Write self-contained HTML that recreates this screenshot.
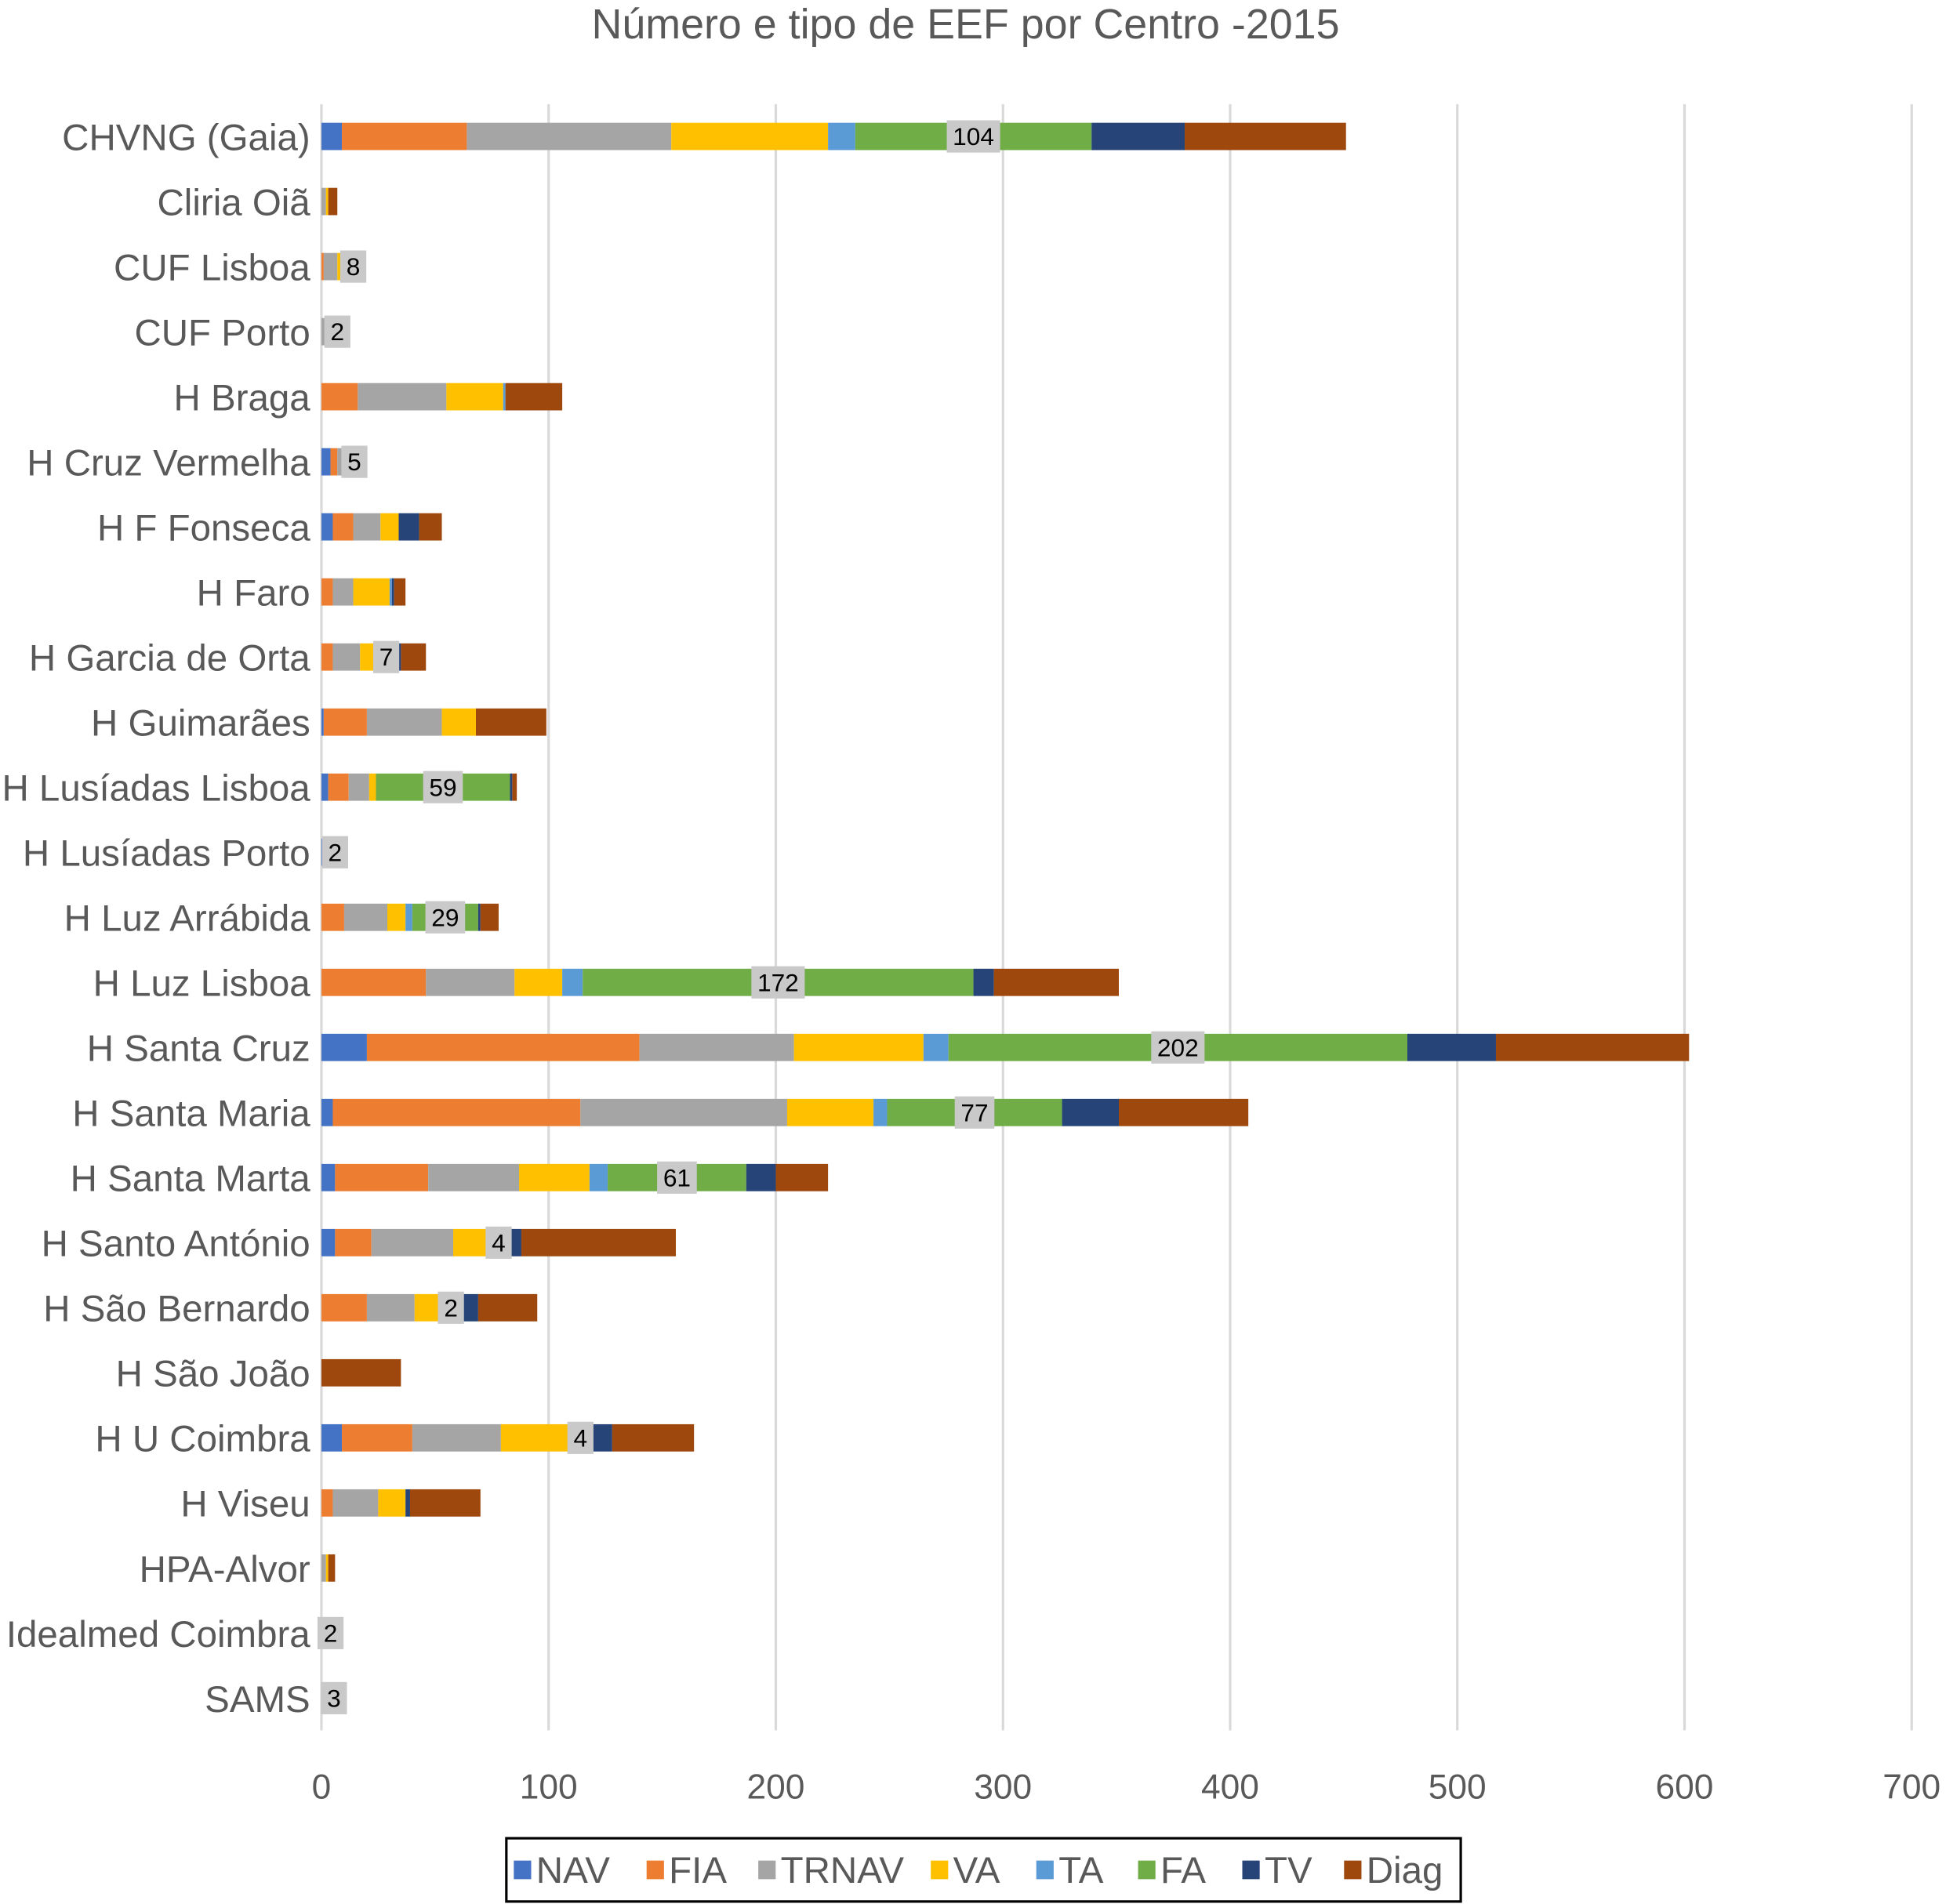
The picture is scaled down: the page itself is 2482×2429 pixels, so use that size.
<!DOCTYPE html>
<html><head><meta charset="utf-8"><style>
html,body{margin:0;padding:0;background:#fff}
svg{display:block}
text{font-family:"Liberation Sans",sans-serif;fill:#595959}
</style></head><body>
<svg id="chart" width="2482" height="2429" viewBox="0 0 1568 1535" preserveAspectRatio="none" xmlns="http://www.w3.org/2000/svg">
<text x="778" y="31" font-size="34" text-anchor="middle">Número e tipo de EEF por Centro -2015</text>
<g id="grid"></g><g id="bars"></g><g id="labels"></g><g id="ticks"></g><g id="cats"></g>
<rect x="408" y="1482" width="769" height="51" fill="#fff" stroke="#000" stroke-width="2"/>
<g id="legend"></g>
</svg>
<script>
const categories=["CHVNG (Gaia)","Cliria Oiã","CUF Lisboa","CUF Porto","H Braga","H Cruz Vermelha","H F Fonseca","H Faro","H Garcia de Orta","H Guimarães","H Lusíadas Lisboa","H Lusíadas Porto","H Luz Arrábida","H Luz Lisboa","H Santa Cruz","H Santa Maria","H Santa Marta","H Santo António","H São Bernardo","H São João","H U Coimbra","H Viseu","HPA-Alvor","Idealmed Coimbra","SAMS"];
const seriesNames=["NAV","FIA","TRNAV","VA","TA","FA","TV","Diag"];
const NAV  =[9,0,0,0,0,4,5,0,0,1,3,1,0,0,20,5,6,6,0,0,9,0,0,0,0];
const FIA  =[55,0,1,0,16,3,9,5,5,19,9,1,10,46,120,109,41,16,20,0,31,5,0,0,1];
const TRNAV=[90,2,6,5,39,2,12,9,12,33,9,3,19,39,68,91,40,36,21,0,39,20,2,3,3];
const VA   =[69,1,3,1,25,3,8,16,6,15,3,0,8,21,57,38,31,15,11,0,31,12,1,0,0];
const TA   =[12,0,0,0,1,0,0,1,2,0,0,0,3,9,11,6,8,3,4,0,2,0,0,0,0];
const FA   =[104,0,8,2,0,5,0,0,7,0,59,2,29,172,202,77,61,4,2,0,4,0,0,2,3];
const TV   =[41,0,0,0,0,0,9,1,3,0,1,0,1,9,39,25,13,8,11,0,12,2,0,0,0];
const Diag =[71,4,0,0,25,3,10,5,11,31,2,0,8,55,85,57,23,68,26,35,36,31,3,0,0];
const xTicks=[0,100,200,300,400,500,600,700];
const series=[NAV,FIA,TRNAV,VA,TA,FA,TV,Diag];
const colors=["#4472c4","#ed7d31","#a5a5a5","#ffc000","#5b9bd5","#70ad47","#264478","#9e480e"];
const NS="http://www.w3.org/2000/svg";
const x0=259,pxPer=1.8305,yTop=110,rowGap=52.46,barH=22;
const xs=v=>x0+v*pxPer;
const ys=i=>yTop+i*rowGap;
function mk(tag,attrs,parent,txt){const e=document.createElementNS(NS,tag);for(const k in attrs)e.setAttribute(k,attrs[k]);if(txt!==undefined)e.textContent=txt;document.getElementById(parent).appendChild(e);return e;}
xTicks.forEach(t=>{
  const l=mk("line",{x1:xs(t),x2:xs(t),y1:84,y2:1395,stroke:"#d9d9d9","stroke-width":2},"grid");
  
  
  const tx=mk("text",{x:xs(t),y:1450,"font-size":28,"text-anchor":"middle"},"ticks",String(t));
  
  
});
categories.forEach((c,i)=>{
  const t=mk("text",{x:250,y:ys(i)+11,"font-size":30,"text-anchor":"end"},"cats",c);
  
  
  let cum=0;
  series.forEach((s,k)=>{
    const v=s[i];
    if(v>0){
      const r=mk("rect",{x:xs(cum),y:ys(i)-barH/2,width:xs(cum+v)-xs(cum),height:barH,fill:colors[k]},"bars");
      
      
    }
    if(k===5&&v>0){
      const cx=xs(cum+v/2),txt=String(v),w=txt.length*11+10;
      const b=mk("rect",{x:cx-w/2,y:ys(i)-13,width:w,height:26,fill:"#c9c9c9"},"labels");
      
      
      const lt=mk("text",{x:cx,y:ys(i)+7,"font-size":20,"text-anchor":"middle",style:"fill:#000"},"labels",txt);
      
      
    }
    cum+=v;
  });
});
const legX=[414,521,611,750,835,917,1001,1083];
seriesNames.forEach((n,k)=>{
  const r=mk("rect",{x:legX[k],y:1500,width:14,height:15,fill:colors[k]},"legend");
  
  
  const t=mk("text",{x:legX[k]+18,y:1518,"font-size":30},"legend",n);
  
  
});
</script>
</body></html>
